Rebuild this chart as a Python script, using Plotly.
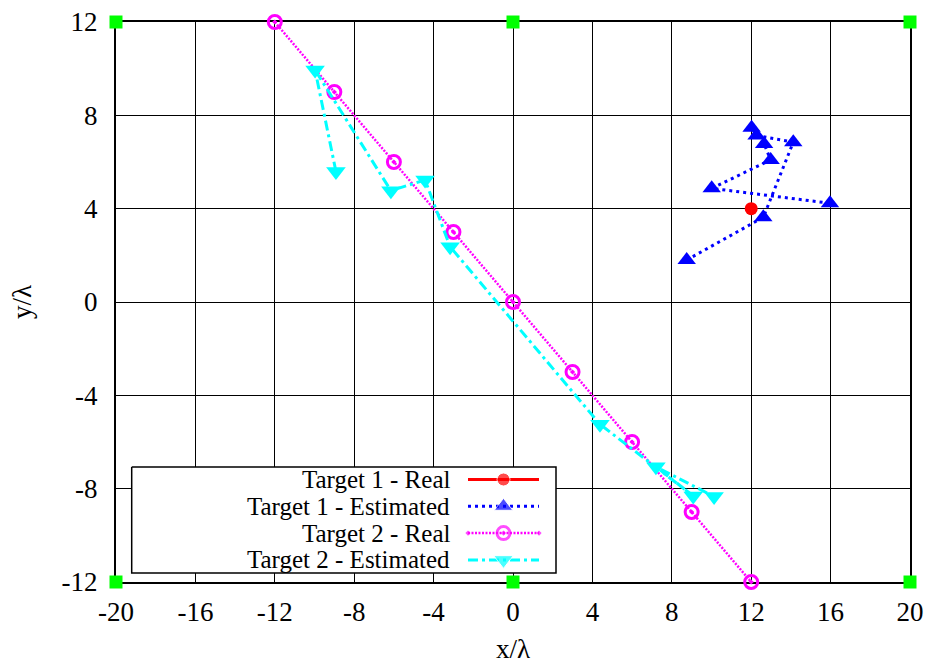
import plotly.graph_objects as go

# Reference anchors at the corners and mid-edges of the region
anchor_x = [-20, 0, 20, -20, 0, 20]
anchor_y = [12, 12, 12, -12, -12, -12]

# Target 1: true position and successive estimates
t1_real_x = [12]
t1_real_y = [4]
t1_est_x = [8.75, 12.61, 14.12, 12.27, 12.02, 12.65, 12.98, 10.01, 15.97]
t1_est_y = [1.80, 3.63, 6.85, 7.14, 7.47, 6.77, 6.09, 4.87, 4.23]

# Target 2: true trajectory and successive estimates
t2_real_x = [-12, -9, -6, -3, 0, 3, 6, 9, 12]
t2_real_y = [12, 9, 6, 3, 0, -3, -6, -9, -12]
t2_est_x = [-8.92, -9.97, -6.15, -4.43, -3.17, 4.38, 9.08, 7.20, 10.13]
t2_est_y = [5.59, 9.94, 4.77, 5.23, 2.37, -5.24, -8.31, -7.06, -8.34]

x_ticks = [-20, -16, -12, -8, -4, 0, 4, 8, 12, 16, 20]
y_ticks = [-12, -8, -4, 0, 4, 8, 12]

legend_names = ["Target 1 - Real", "Target 1 - Estimated",
                "Target 2 - Real", "Target 2 - Estimated"]

FONT = "Liberation Serif"
FSIZE = 27
LEG_FSIZE = 25

styles = [
    dict(line=dict(color="#ff0000", width=3),
         marker=dict(symbol="circle", size=13, color="#ff0000")),
    dict(line=dict(color="#0000ff", width=3, dash="3px,4px"),
         marker=dict(symbol="triangle-up", size=16, color="#0000ff")),
    dict(line=dict(color="#ff00ff", width=2.5, dash="2px,1.5px"),
         marker=dict(symbol="circle-open-dot", size=13, color="#ff00ff",
                     line=dict(width=3, color="#ff00ff"))),
    dict(line=dict(color="#00ffff", width=3, dash="10px,4px,3px,4px"),
         marker=dict(symbol="triangle-down", size=17, color="#00ffff")),
]

series = [(t1_real_x, t1_real_y), (t1_est_x, t1_est_y),
          (t2_real_x, t2_real_y), (t2_est_x, t2_est_y)]

fig = go.Figure()

fig.add_trace(go.Scatter(x=anchor_x, y=anchor_y, mode="markers",
                         marker=dict(symbol="square", size=13, color="#00ff00"),
                         cliponaxis=False, showlegend=False, hoverinfo="skip"))

for (sx, sy), st, name in zip(series, styles, legend_names):
    fig.add_trace(go.Scatter(x=sx, y=sy, mode="lines+markers", name=name,
                             line=st["line"], marker=st["marker"],
                             cliponaxis=False, showlegend=False))

# Hand-drawn legend: text right-aligned, sample line to the right.
# Overlay axes are laid out in pixel units of the plot area.
PL, PR, PT, PB = 116, 910, 22, 582
rows = [479.5, 506.3, 533.1, 559.9]
samp_x0, samp_x1 = 468, 539
samp_xm = (samp_x0 + samp_x1) / 2

# white legend box that hides the grid behind it
box_l, box_r, box_t, box_b = 131.7, 556, 467, 573
fig.add_trace(go.Scatter(x=[box_l, box_r, box_r, box_l, box_l],
                         y=[box_t, box_t, box_b, box_b, box_t],
                         mode="lines", fill="toself", fillcolor="white",
                         line=dict(color="black", width=1.5),
                         xaxis="x2", yaxis="y2", showlegend=False,
                         hoverinfo="skip"))

for st, yrow in zip(styles, rows):
    mk = dict(st["marker"])
    mk["size"] = [0, st["marker"]["size"], 0]
    fig.add_trace(go.Scatter(x=[samp_x0, samp_xm, samp_x1], y=[yrow] * 3,
                             mode="lines+markers", line=st["line"], marker=mk,
                             xaxis="x2", yaxis="y2", cliponaxis=False,
                             showlegend=False, hoverinfo="skip"))

annotations = []
for name, yrow in zip(legend_names, rows):
    annotations.append(dict(x=452, y=yrow, xref="x2", yref="y2", text=name,
                            showarrow=False, xanchor="right", yanchor="middle",
                            font=dict(family=FONT, size=LEG_FSIZE, color="black")))

axis_common = dict(showgrid=True, gridcolor="black", gridwidth=1,
                   showline=True, linecolor="black", linewidth=2, mirror=True,
                   zeroline=False, ticks="", layer="below traces",
                   automargin=False,
                   tickfont=dict(family=FONT, size=FSIZE, color="black"))

fig.update_layout(
    width=932, height=668,
    margin=dict(l=PL, r=932 - PR, t=PT, b=668 - PB),
    paper_bgcolor="white", plot_bgcolor="white",
    font=dict(family=FONT, color="black"),
    xaxis=dict(range=[-20, 20], tickvals=x_ticks,
               ticktext=[str(v) for v in x_ticks], ticklabelstandoff=5,
               title=dict(text="x/λ", font=dict(family=FONT, size=FSIZE), standoff=13),
               **axis_common),
    yaxis=dict(range=[-12, 12], tickvals=y_ticks,
               ticktext=[str(v) for v in y_ticks], ticklabelstandoff=11,
               title=dict(text="y/λ", font=dict(family=FONT, size=FSIZE), standoff=22),
               **axis_common),
    xaxis2=dict(range=[PL, PR], overlaying="x", visible=False),
    yaxis2=dict(range=[PB, PT], overlaying="y", visible=False),
    annotations=annotations,
    showlegend=False,
)

fig.write_html("out.html")
